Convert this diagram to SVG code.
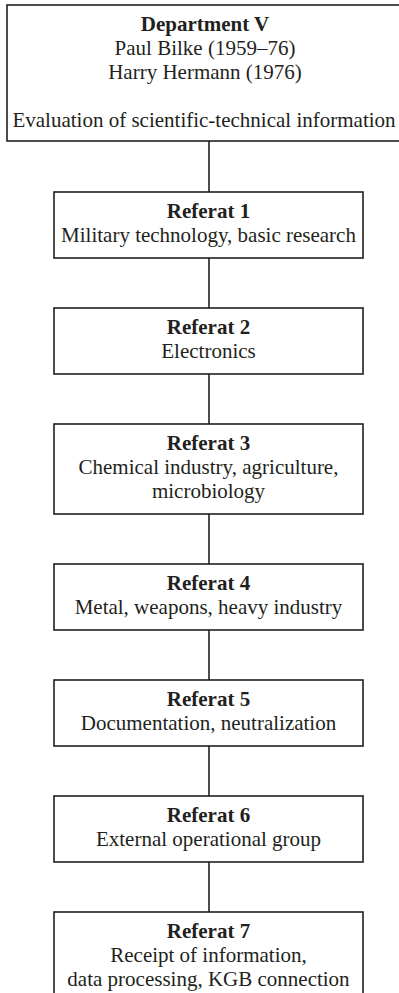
<svg xmlns="http://www.w3.org/2000/svg" width="399" height="993" viewBox="0 0 399 993">
<style>
.box{fill:#fff;stroke:#231f20;stroke-width:1.6}
.conn line{stroke:#231f20;stroke-width:1.6}
text{font-family:"Liberation Serif","Times New Roman",serif;font-size:21px;fill:#231f20;text-anchor:middle}
.b{font-weight:bold}
</style>
<rect width="399" height="993" fill="#fff"/>
<g class="conn" id="connectors">
<line x1="209" y1="141" x2="209" y2="192"/>
<line x1="209" y1="258" x2="209" y2="308"/>
<line x1="209" y1="374" x2="209" y2="424"/>
<line x1="209" y1="514" x2="209" y2="564"/>
<line x1="209" y1="630" x2="209" y2="680"/>
<line x1="209" y1="746" x2="209" y2="796"/>
<line x1="209" y1="862" x2="209" y2="912"/>
</g>
<g id="dept">
<rect class="box" x="7" y="5" width="396" height="136"/>
<text x="205" y="31" class="b">Department V</text>
<text x="205" y="55">Paul Bilke (1959–76)</text>
<text x="205" y="79">Harry Hermann (1976)</text>
<text x="204" y="127">Evaluation of scientific-technical information</text>
</g>
<g id="r1">
<rect class="box" x="54" y="192" width="309" height="66"/>
<text x="208.5" y="218" class="b">Referat 1</text>
<text x="208.5" y="242">Military technology, basic research</text>
</g>
<g id="r2">
<rect class="box" x="54" y="308" width="309" height="66"/>
<text x="208.5" y="334" class="b">Referat 2</text>
<text x="208.5" y="358">Electronics</text>
</g>
<g id="r3">
<rect class="box" x="54" y="424" width="309" height="90"/>
<text x="208.5" y="450" class="b">Referat 3</text>
<text x="208.5" y="474">Chemical industry, agriculture,</text>
<text x="208.5" y="498">microbiology</text>
</g>
<g id="r4">
<rect class="box" x="54" y="564" width="309" height="66"/>
<text x="208.5" y="590" class="b">Referat 4</text>
<text x="208.5" y="614">Metal, weapons, heavy industry</text>
</g>
<g id="r5">
<rect class="box" x="54" y="680" width="309" height="66"/>
<text x="208.5" y="706" class="b">Referat 5</text>
<text x="208.5" y="730">Documentation, neutralization</text>
</g>
<g id="r6">
<rect class="box" x="54" y="796" width="309" height="66"/>
<text x="208.5" y="822" class="b">Referat 6</text>
<text x="208.5" y="846">External operational group</text>
</g>
<g id="r7">
<rect class="box" x="54" y="912" width="309" height="90"/>
<text x="208.5" y="938" class="b">Referat 7</text>
<text x="208.5" y="962">Receipt of information,</text>
<text x="208.5" y="986">data processing, KGB connection</text>
</g>
</svg>
